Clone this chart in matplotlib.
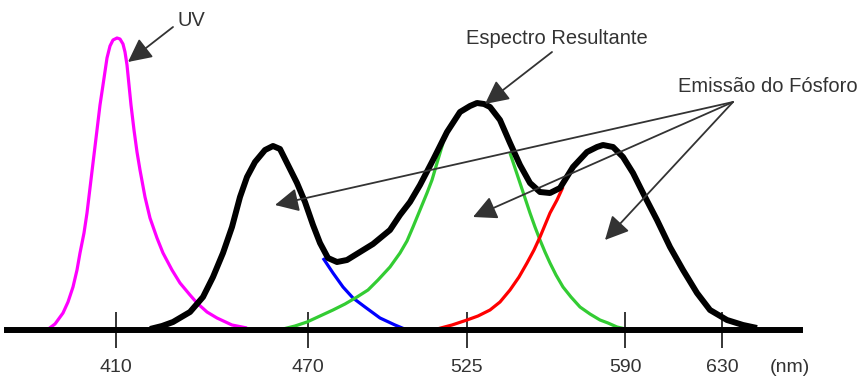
import matplotlib.pyplot as plt

plt.rcParams['font.family'] = ['Liberation Sans', 'DejaVu Sans']

# horizontal position is schematic (axis is not linear in nm); y = relative intensity
tick_pos = [116, 308, 467, 625, 722]
tick_labels = ['410', '470', '525', '590', '630']

uv_x = [47, 55, 63, 68, 73, 77, 80, 84, 87, 90, 93, 97, 100, 103, 107, 110, 113, 117, 120, 123, 125, 127,
        129, 131, 134, 137, 140, 145, 150, 157, 163, 172, 180, 190, 197, 207, 217, 232, 247]
uv_y = [0, 6, 17, 28, 43, 60, 77, 97, 117, 142, 167, 200, 225, 245, 272, 284, 290, 292, 291, 286, 278, 265,
        245, 225, 200, 178, 160, 133, 112, 92, 77, 60, 47, 35, 27, 18, 12, 5, 2]

spec_x = [150, 162, 173, 190, 203, 213, 223, 232, 240, 247, 255, 265, 273, 280, 288, 297, 305, 313, 320,
          328, 337, 347, 360, 373, 390, 400, 410, 420, 433, 447, 460, 470, 477, 484, 490, 500, 510, 520,
          530, 540, 550, 560, 573, 587, 597, 603, 613, 623, 633, 643, 657, 670, 683, 697, 710, 727, 743, 757]
spec_y = [1, 4, 8, 18, 33, 53, 77, 103, 133, 153, 168, 180, 184, 181, 165, 147, 128, 105, 87,
          72, 68, 70, 78, 86, 100, 115, 128, 145, 170, 198, 218, 224, 227, 226, 223, 210, 187, 165,
          147, 138, 137, 142, 163, 178, 183, 185, 183, 173, 157, 137, 110, 83, 60, 37, 20, 10, 5, 2]

blue_x = [323, 333, 343, 353, 365, 380, 395, 407]
blue_y = [72, 57, 43, 32, 23, 12, 5, 0]

green1_x = [283, 295, 307, 320, 333, 345, 357, 368, 378, 390, 400, 407, 413, 420, 427, 432, 437, 443]
green1_y = [1, 4, 8, 14, 20, 26, 33, 40, 50, 63, 77, 89, 103, 120, 137, 150, 167, 187]

green2_x = [510, 515, 520, 525, 530, 535, 540, 545, 550, 556, 563, 571, 580, 590, 600, 608, 617, 630]
green2_y = [177, 162, 147, 132, 117, 103, 90, 78, 67, 55, 43, 33, 23, 16, 10, 7, 3, 0]

red_x = [437, 452, 467, 478, 490, 500, 510, 519, 527, 534, 540, 545, 550, 557, 563]
red_y = [1, 5, 10, 14, 20, 28, 40, 53, 67, 80, 93, 105, 117, 130, 143]

fig = plt.figure(figsize=(8.61, 3.81), dpi=100)
ax = fig.add_axes([7 / 861, 51 / 381, 793 / 861, 330 / 381])
ax.set_xlim(7, 800)
ax.set_ylim(0, 330)

thin = dict(lw=2.3, solid_capstyle='butt', solid_joinstyle='round')
ax.plot(uv_x, uv_y, color='#ff00ff', **thin)
ax.plot(blue_x, blue_y, color='#0000ff', **thin)
ax.plot(green1_x, green1_y, color='#33cc33', **thin)
ax.plot(green2_x, green2_y, color='#33cc33', **thin)
ax.plot(red_x, red_y, color='#ff0000', **thin)
ax.plot(spec_x, spec_y, color='black', lw=4.3, solid_joinstyle='round', solid_capstyle='butt')

for s in ['top', 'left', 'right']:
    ax.spines[s].set_visible(False)
ax.spines['bottom'].set_linewidth(4.3)
ax.set_yticks([])
ax.set_xticks(tick_pos)
ax.set_xticklabels(tick_labels)
ax.tick_params(axis='x', direction='inout', length=26, width=1.1, pad=8,
               labelsize=14, labelcolor='#333333')
ax.text(790, -37, '(nm)', fontsize=14, color='#333333', ha='center', va='center', clip_on=False)

txt = '#333333'
arrow = dict(arrowstyle='-|>,head_length=0.9,head_width=0.45', color=txt, lw=1.3,
             mutation_scale=16, shrinkA=0, shrinkB=0)
ax.annotate('', xy=(128, 268), xytext=(173, 303), arrowprops=arrow)
ax.text(191, 310, 'UV', fontsize=14.5, color=txt, ha='center', va='center')
ax.annotate('', xy=(485, 226), xytext=(552, 278), arrowprops=arrow)
ax.text(557, 291, 'Espectro Resultante', fontsize=14.5, color=txt, ha='center', va='center')
ax.text(768, 243, 'Emissão do Fósforo', fontsize=14.5, color=txt, ha='center', va='center')
for tip in [(275, 125), (473, 113), (605, 90)]:
    ax.annotate('', xy=tip, xytext=(733, 228), arrowprops=arrow)

fig.savefig('out.png', dpi=100)
